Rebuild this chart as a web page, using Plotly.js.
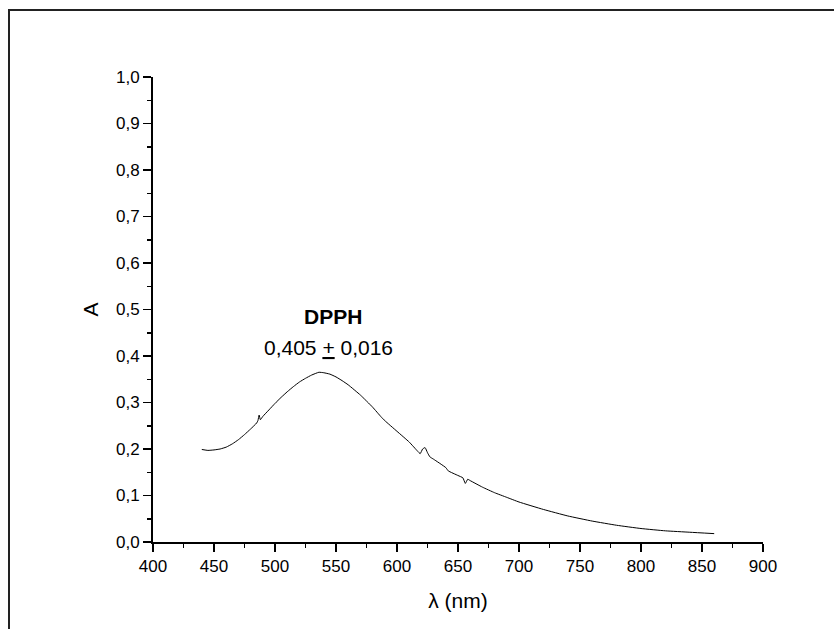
<!DOCTYPE html>
<html>
<head>
<meta charset="utf-8">
<script src="https://cdn.plot.ly/plotly-3.0.1.min.js"></script>
<style>
  html, body { margin: 0; padding: 0; background: #fff; }
  #wrap { position: relative; width: 834px; height: 629px; overflow: hidden; }
  #chart { position: absolute; left: 0; top: 0; width: 834px; height: 629px; }
  #frame { position: absolute; left: 8px; top: 9px; width: 840px; height: 640px;
           border-left: 2px solid #222; border-top: 2px solid #222; pointer-events: none; }
</style>
</head>
<body>
<div id="wrap">
  <div id="chart"></div>
  <div id="frame"></div>
</div>
<script>
// DPPH absorption spectrum: wavelength (nm) vs absorbance
const wavelength = [440, 445, 450, 455, 460, 465, 470, 475, 480, 485, 486, 487, 488, 490, 495, 500,
  505, 510, 515, 520, 525, 530, 536, 540, 545, 550, 555, 560, 570, 580, 587, 590, 600, 610, 617, 619,
  621, 623, 625, 627, 630, 640, 642, 650, 654, 656, 658, 660, 670, 680, 690, 700, 720, 740, 760, 780,
  800, 820, 840, 860];
const absorbance = [0.199, 0.197, 0.198, 0.200, 0.204, 0.211, 0.220, 0.231, 0.243, 0.256, 0.261,
  0.273, 0.263, 0.270, 0.284, 0.298, 0.311, 0.323, 0.334, 0.344, 0.352, 0.359, 0.365, 0.364, 0.361,
  0.355, 0.347, 0.338, 0.316, 0.290, 0.269, 0.261, 0.238, 0.215, 0.195, 0.190, 0.200, 0.203, 0.192,
  0.183, 0.178, 0.160, 0.153, 0.143, 0.138, 0.126, 0.135, 0.132, 0.118, 0.106, 0.096, 0.086, 0.070,
  0.056, 0.045, 0.036, 0.029, 0.024, 0.021, 0.018];

const xTicks = [400, 450, 500, 550, 600, 650, 700, 750, 800, 850, 900];
const yTicks = [0, 0.1, 0.2, 0.3, 0.4, 0.5, 0.6, 0.7, 0.8, 0.9, 1.0];

const seriesName = 'DPPH';
const seriesValue = '0,405 <span style="text-decoration:underline">+</span> 0,016';

const FONT = '"Liberation Sans", Arial, Helvetica, sans-serif';

const trace = {
  x: wavelength,
  y: absorbance,
  type: 'scatter',
  mode: 'lines',
  line: { color: '#000', width: 1, shape: 'spline', smoothing: 0.4 },
  hoverinfo: 'skip'
};

const axisCommon = {
  showgrid: false,
  zeroline: false,
  showline: true,
  linecolor: '#000',
  linewidth: 2,
  ticks: 'outside',
  ticklen: 8,
  tickwidth: 1.5,
  tickcolor: '#000',
  tickfont: { family: FONT, size: 17, color: '#000' }
};

const layout = {
  width: 834,
  height: 629,
  margin: { l: 153, r: 71, t: 77, b: 87 },
  paper_bgcolor: '#fff',
  plot_bgcolor: '#fff',
  showlegend: false,
  separators: ',.',
  font: { family: FONT, color: '#000' },
  xaxis: Object.assign({}, axisCommon, {
    range: [400, 900],
    tickmode: 'array',
    tickvals: xTicks,
    ticktext: xTicks.map(String),
    minor: { dtick: 25, tick0: 400, ticks: 'outside', ticklen: 4, tickwidth: 1.5, tickcolor: '#000' },
    title: { text: 'λ (nm)', font: { family: FONT, size: 21, color: '#000' }, standoff: 18 }
  }),
  yaxis: Object.assign({}, axisCommon, {
    range: [0, 1],
    tickmode: 'array',
    tickvals: yTicks,
    ticktext: yTicks.map(v => v.toFixed(1).replace('.', ',')),
    minor: { dtick: 0.05, tick0: 0, ticks: 'outside', ticklen: 4, tickwidth: 1.5, tickcolor: '#000' },
    title: { text: 'A', font: { family: FONT, size: 21, color: '#000' }, standoff: 12 }
  }),
  annotations: [
    { x: 547.5, y: 0.486, xref: 'x', yref: 'y', text: '<b>' + seriesName + '</b>', showarrow: false,
      font: { family: FONT, size: 21, color: '#000' } },
    { x: 543.5, y: 0.419, xref: 'x', yref: 'y', text: seriesValue, showarrow: false,
      font: { family: FONT, size: 21, color: '#000' } }
  ]
};

Plotly.newPlot('chart', [trace], layout, { staticPlot: true, displayModeBar: false });
</script>
</body>
</html>
